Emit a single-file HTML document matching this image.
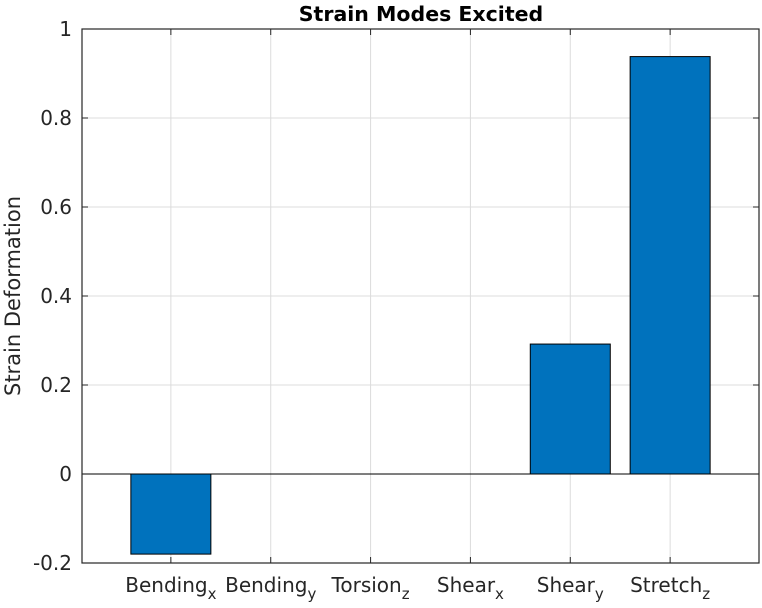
<!DOCTYPE html>
<html><head><meta charset="utf-8">
<style>
body{margin:0;background:#fff;}
svg{display:block;font-family:"DejaVu Sans","Liberation Sans",sans-serif;}
</style></head>
<body>
<svg id="chart" width="762" height="608" viewBox="0 0 762 608" xmlns="http://www.w3.org/2000/svg">
<text x="421" y="21" text-anchor="middle" font-size="20.5" font-weight="bold" fill="#000">Strain Modes Excited</text>
<text transform="translate(20,296) rotate(-90)" text-anchor="middle" font-size="21" fill="#262626">Strain Deformation</text>
<g id="grid"></g>
<g id="bars"></g>
<g id="axes"></g>
</svg>
<script>
const categories = ["Bending","Bending","Torsion","Shear","Shear","Stretch"];
const subscripts = ["x","y","z","x","y","z"];
const values = [-0.18, 0, 0, 0, 0.292, 0.938];
const yTicks = [-0.2, 0, 0.2, 0.4, 0.6, 0.8, 1];
const yTickLabels = ["-0.2","0","0.2","0.4","0.6","0.8","1"];

const L=82,R=759,T=29,B=563;
const xmin=0.11,xmax=6.89,ymin=-0.2,ymax=1;
const x=v=>L+(v-xmin)/(xmax-xmin)*(R-L);
const y=v=>B-(v-ymin)/(ymax-ymin)*(B-T);
const NS="http://www.w3.org/2000/svg";
function mk(tag,attrs,parent){const e=document.createElementNS(NS,tag);for(const k in attrs)e.setAttribute(k,attrs[k]);parent.appendChild(e);return e;}
const grid=document.getElementById('grid'),bars=document.getElementById('bars'),axes=document.getElementById('axes');

yTicks.forEach((t,i)=>{
  const g=mk('line',{x1:L,x2:R,y1:y(t),y2:y(t),stroke:'#dcdcdc','stroke-width':1},grid);
  
  
  const tk=mk('line',{x1:L,x2:L+6,y1:y(t),y2:y(t),stroke:'#262626','stroke-width':1},axes);
  
  
  const tk2=mk('line',{x1:R-6,x2:R,y1:y(t),y2:y(t),stroke:'#262626','stroke-width':1},axes);
  
  
  const lb=mk('text',{x:L-10,y:y(t)+7,'text-anchor':'end','font-size':20,fill:'#262626'},axes);
  lb.textContent=yTickLabels[i];
  
  
});
categories.forEach((c,i)=>{
  const cx=x(i+1);
  const g=mk('line',{x1:cx,x2:cx,y1:T,y2:B,stroke:'#dcdcdc','stroke-width':1},grid);
  
  
  const tk=mk('line',{x1:cx,x2:cx,y1:B,y2:B-6,stroke:'#262626','stroke-width':1},axes);
  
  
  const tk2=mk('line',{x1:cx,x2:cx,y1:T,y2:T+6,stroke:'#262626','stroke-width':1},axes);
  
  
  const v=values[i];
  const top=y(Math.max(v,0)),bot=y(Math.min(v,0));
  const r=mk('rect',{x:cx-40,y:top,width:80,height:Math.max(bot-top,0.01),fill:'#0072bd',stroke:'#000','stroke-width':1},bars);
  
  
  const lb=mk('text',{x:cx,y:B+29,'text-anchor':'middle','font-size':20,fill:'#262626'},axes);
  
  
  const t1=mk('tspan',{},lb);t1.textContent=c;
  const t2=mk('tspan',{'font-size':15,dy:7},lb);t2.textContent=subscripts[i];
});
const zl=mk('line',{x1:L,x2:R,y1:y(0),y2:y(0),stroke:'#000','stroke-width':1},axes);


const box=mk('rect',{x:L,y:T,width:R-L,height:B-T,fill:'none',stroke:'#262626','stroke-width':1.2},axes);


</script>
</body></html>
